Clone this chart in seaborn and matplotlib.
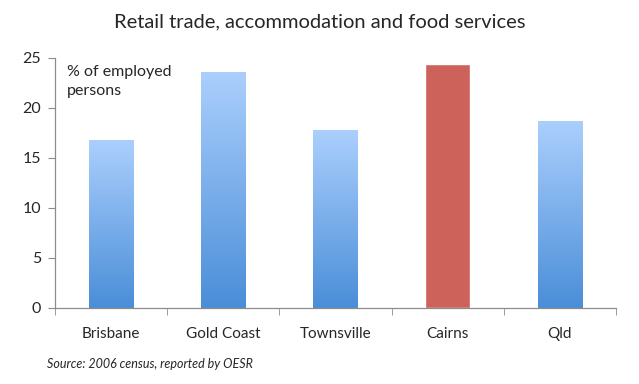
import numpy as np
import pandas as pd
import matplotlib
matplotlib.use('Agg')
import matplotlib.pyplot as plt
import seaborn as sns
from matplotlib.colors import LinearSegmentedColormap

regions = ['Brisbane', 'Gold Coast', 'Townsville', 'Cairns', 'Qld']
pct_employed = [16.8, 23.6, 17.8, 24.4, 18.7]
y_ticks = [0, 5, 10, 15, 20, 25]

df = pd.DataFrame({'region': regions, 'pct': pct_employed})

sns.set_style('white')
plt.rcParams['font.family'] = ['Lato', 'DejaVu Sans']

fig = plt.figure(figsize=(6.39, 3.84), dpi=100)
ax = fig.add_axes([0.0861, 0.198, 0.878, 0.651])

sns.barplot(data=df, x='region', y='pct', ax=ax, width=0.40,
            color='#5b9bdf', saturation=1)

# blue bars get a vertical gradient, Cairns stays solid red
blue_grad = LinearSegmentedColormap.from_list('bg', ['#4a8ed8', '#abcffd'])
grad = np.linspace(0, 1, 256).reshape(-1, 1)
for patch, name in zip(ax.patches, regions):
    if name == 'Cairns':
        patch.set_facecolor('#cd625a')
        continue
    x0 = patch.get_x()
    w = patch.get_width()
    h = patch.get_height()
    patch.set_facecolor('none')
    patch.set_edgecolor('none')
    im = ax.imshow(grad, extent=[x0, x0 + w, 0, h], origin='lower',
                   cmap=blue_grad, aspect='auto', zorder=2)
    im.set_clip_path(patch)

ax.set_xlim(-0.5, len(regions) - 0.5)
ax.set_ylim(0, 25)
ax.set_yticks(y_ticks)
ax.set_xlabel('')
ax.set_ylabel('')

for s in ['top', 'right']:
    ax.spines[s].set_visible(False)
for s in ['left', 'bottom']:
    ax.spines[s].set_color('#8c8c8c')
    ax.spines[s].set_linewidth(0.9)

ax.tick_params(axis='y', labelsize=11.5, length=5, color='#8c8c8c', left=True,
               pad=5)
ax.tick_params(axis='x', labelsize=11, length=0, pad=14)
# category separator ticks on the x axis
ax.set_xticks(np.arange(-0.5, len(regions)), minor=True)
ax.tick_params(axis='x', which='minor', length=5, color='#8c8c8c', bottom=True)

ax.text(0.021, 0.97, '% of employed\npersons', transform=ax.transAxes,
        fontsize=11.5, va='top', ha='left', linespacing=1.4)

fig.text(0.5, 0.943, 'Retail trade, accommodation and food services',
         ha='center', va='center', fontsize=14.5)
fig.text(0.074, 0.052, 'Source: 2006 census, reported by OESR',
         ha='left', va='center', fontsize=9, style='italic')

fig.savefig('out.png', dpi=100)
